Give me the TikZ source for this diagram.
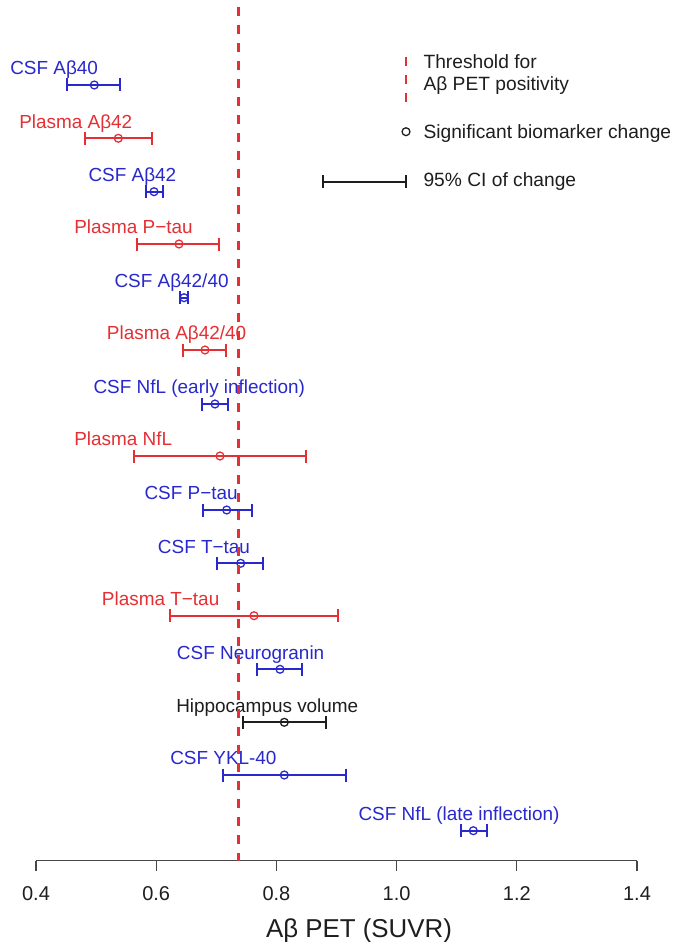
\documentclass[tikz,border=0pt]{standalone}
\usepackage{fontspec}
\setmainfont{Liberation Sans}
\usetikzlibrary{calc}
\definecolor{cblue}{RGB}{40,40,205}
\definecolor{cred}{RGB}{228,48,52}
\definecolor{cblack}{RGB}{30,30,30}
\definecolor{caxis}{RGB}{70,70,70}
\tikzset{
  lbl/.style={anchor=base west, inner sep=0pt, font=\fontsize{14.2pt}{16pt}\selectfont},
  legtxt/.style={anchor=base west, inner sep=0pt, font=\fontsize{14.4pt}{16pt}\selectfont, text=cblack},
  ticklbl/.style={anchor=base, inner sep=0pt, font=\fontsize{15pt}{17pt}\selectfont, text=cblack},
  bar/.style={line width=1.6pt},
  ptmark/.style={circle, minimum size=5.9pt, inner sep=0pt, line width=0.95pt},
  threshold/.style={cred, line width=2pt, dash pattern=on 6.75pt off 6.75pt},
  axisline/.style={caxis, line width=0.9pt},
}
\newcommand{\errbar}[8]{%
  \coordinate (#1lo) at (#3,#2);
  \coordinate (#1hi) at (#5,#2);
  \node[lbl, text=#6] (#1lbl) at (#7,#2-10.1) {#8};
  \draw[bar,#6] (#1lo) -- (#1hi);
  \draw[bar,#6] ($(#1lo)+(0,-6.5)$) -- ($(#1lo)+(0,6.5)$);
  \draw[bar,#6] ($(#1hi)+(0,-6.5)$) -- ($(#1hi)+(0,6.5)$);
  \node[ptmark, draw=#6] (#1pt) at (#4,#2) {};
}
\begin{document}
\begin{tikzpicture}[x=0.75pt, y=-0.75pt]
\useasboundingbox (0,0) rectangle (673,942);
\fill[white] (0,0) rectangle (673,942);

% rows
\errbar{r1}{85}{67.3}{94.3}{120}{cblue}{10}{CSF Aβ40}
\errbar{r2}{138.3}{85}{118.3}{152.3}{cred}{19}{Plasma Aβ42}
\errbar{r3}{191.7}{145.7}{154}{163.3}{cblue}{88.3}{CSF Aβ42}
\errbar{r4}{244}{136.7}{179}{219.3}{cred}{74}{Plasma P−tau}
\errbar{r5}{297.7}{180}{184}{188.3}{cblue}{114.3}{CSF Aβ42/40}
\errbar{r6}{350}{183.3}{205}{226}{cred}{106.7}{Plasma Aβ42/40}
\errbar{r7}{404}{202.3}{215}{227.7}{cblue}{93.3}{CSF NfL (early inflection)}
\errbar{r8}{456}{134.3}{220}{306}{cred}{74}{Plasma NfL}
\errbar{r9}{510}{203.3}{226.7}{251.7}{cblue}{144.3}{CSF P−tau}
\errbar{r10}{563.3}{216.7}{240.7}{263.3}{cblue}{157.7}{CSF T−tau}
\errbar{r11}{615.7}{170}{254}{338.3}{cred}{101.7}{Plasma T−tau}
\errbar{r12}{669.3}{256.7}{280}{301.7}{cblue}{176.7}{CSF Neurogranin}
\errbar{r13}{722.3}{242.7}{284.3}{326}{cblack}{176}{Hippocampus volume}
\errbar{r14}{775}{222.7}{284.3}{346}{cblue}{170}{CSF YKL-40}
\errbar{r15}{830.7}{460.7}{473.3}{486.7}{cblue}{358.3}{CSF NfL (late inflection)}

% legend
\coordinate (legT0) at (406,56.7);
\coordinate (legT1) at (406,101.7);
\draw[threshold] (legT0) -- (legT1);
\node[legtxt] (legthr1) at (423.3,68.4) {Threshold for};
\node[legtxt] (legthr2) at (423.3,90.0) {Aβ PET positivity};
\node[ptmark, draw=cblack] (legpt) at (406,131.7) {};
\node[legtxt] (legsig) at (423.3,138.4) {Significant biomarker change};
\coordinate (legCIlo) at (323.3,181.7);
\coordinate (legCIhi) at (406,181.7);
\draw[bar,cblack] (legCIlo) -- (legCIhi);
\draw[bar,cblack] ($(legCIlo)+(0,-6.5)$) -- ($(legCIlo)+(0,6.5)$);
\draw[bar,cblack] ($(legCIhi)+(0,-6.5)$) -- ($(legCIhi)+(0,6.5)$);
\node[legtxt] (legci) at (423.3,186.8) {95\% CI of change};

% axis
\coordinate (ax0) at (36,860.7);
\coordinate (ax1) at (637,860.7);
\draw[axisline] (ax0) -- (ax1);
\foreach \v/\t [count=\i] in {36/0.4, 156.2/0.6, 276.4/0.8, 396.6/1.0, 516.8/1.2, 637/1.4} {
  \draw[axisline] (\v,860.7) -- (\v,870.7);
  \node[ticklbl] (tick\i) at (\v,900) {\t};
}
\node[anchor=base, inner sep=0pt, font=\fontsize{19.4pt}{22pt}\selectfont, text=cblack] (xtitle) at (359,937) {Aβ PET (SUVR)};

% threshold line
\coordinate (thr0) at (238.3,7.3);
\coordinate (thr1) at (238.3,860.7);
\draw[threshold] (thr0) -- (thr1);
\end{tikzpicture}
\end{document}
